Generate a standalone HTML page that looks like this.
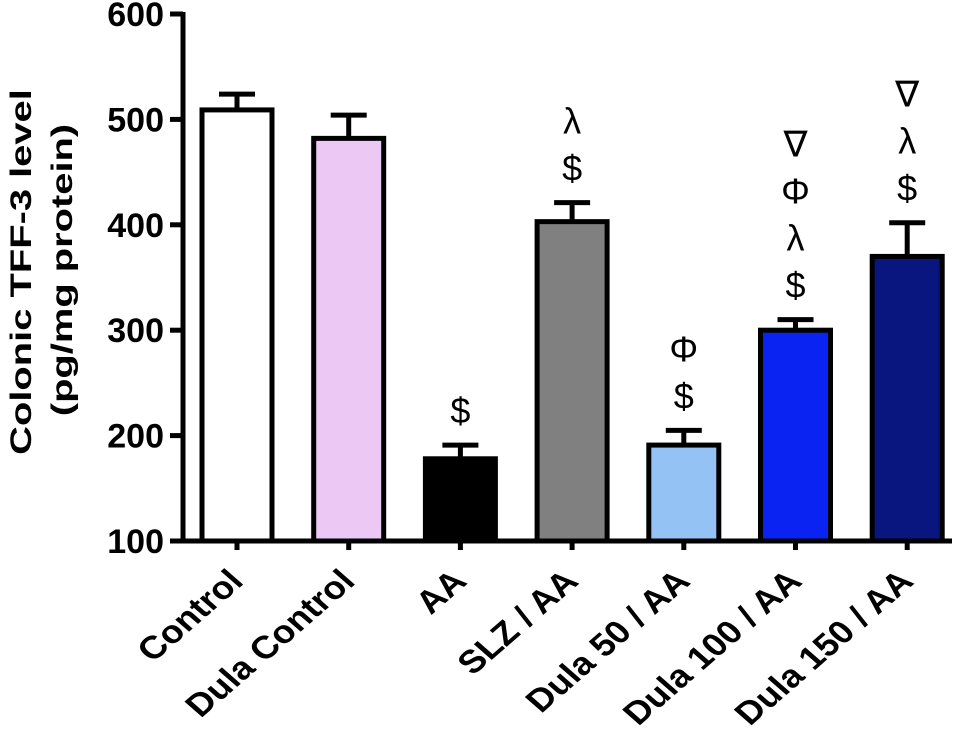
<!DOCTYPE html>
<html><head><meta charset="utf-8"><style>body{margin:0;background:#fff}svg{display:block}text{font-family:"Liberation Sans",Arial,sans-serif;font-weight:bold;fill:#000}</style></head>
<body>
<svg id="chart" width="969" height="739" viewBox="0 0 969 739" xmlns="http://www.w3.org/2000/svg">
<g id="g"></g>
</svg>
<script>
const categories=["Control","Dula Control","AA","SLZ / AA","Dula 50 / AA","Dula 100 / AA","Dula 150 / AA"];
const values=[509,482,178,403,191,300,370];
const errors=[15,22,13,18,14,10,32];
const colors=["#ffffff","#ecc9f4","#000000","#808080","#94c2f5","#0a22f2","#0a1680"];
const annotations=[[],[],["$"],["$","λ"],["$","Φ"],["$","λ","Φ","∇"],["$","λ","∇"]];
const yTicks=[100,200,300,400,500,600];
const NS="http://www.w3.org/2000/svg",g=document.getElementById('g');
const y=v=>541-(v-100)*1.054;
const xc=i=>237+i*111.7;
function mk(t,a){const e=document.createElementNS(NS,t);for(const k in a)e.setAttribute(k,a[k]);g.appendChild(e);return e;}
values.forEach((v,i)=>{
 const cx=xc(i);
 const el=mk('line',{x1:cx,x2:cx,y1:y(v),y2:y(v+errors[i]),stroke:'#000','stroke-width':5});
 
 
 const cap=mk('line',{x1:cx-18,x2:cx+18,y1:y(v+errors[i]),y2:y(v+errors[i]),stroke:'#000','stroke-width':5});
 
 
 const b=mk('rect',{x:cx-35,y:y(v),width:70,height:541-y(v),fill:colors[i],stroke:'#000','stroke-width':5});
 
 
 annotations[i].forEach((s,k)=>{
  const t=mk('text',{x:cx,y:y(v+errors[i])-22-k*47,'text-anchor':'middle','font-size':36});
  t.style.fontWeight='normal';
  t.textContent=s;
  
  
 });
 const tk=mk('line',{x1:cx,x2:cx,y1:541,y2:550,stroke:'#000','stroke-width':5});
 
 
 const lb=mk('text',{x:0,y:0,'text-anchor':'end','font-size':32,transform:`translate(${cx+8} 583) scale(1.15 1) rotate(-45)`});
 lb.textContent=categories[i];
 
 
});
yTicks.forEach(v=>{
 const t=mk('line',{x1:170,x2:183,y1:y(v),y2:y(v),stroke:'#000','stroke-width':5});
 
 
 const l=mk('text',{x:164,y:y(v)+12,'text-anchor':'end','font-size':34});
 l.textContent=v;
 
 
});
const ya=mk('line',{x1:183,x2:183,y1:y(600)-2,y2:543,stroke:'#000','stroke-width':5});


const xa=mk('line',{x1:181,x2:952,y1:541,y2:541,stroke:'#000','stroke-width':5});


const t1=mk('text',{x:0,y:0,'text-anchor':'middle','font-size':30,transform:'translate(31 272) rotate(-90) scale(1.33 1)'});
t1.textContent='Colonic TFF-3  level';


const t2=mk('text',{x:0,y:0,'text-anchor':'middle','font-size':30,transform:'translate(72 270) rotate(-90) scale(1.33 1)'});
t2.textContent='(pg/mg protein)';


</script>
</body></html>
